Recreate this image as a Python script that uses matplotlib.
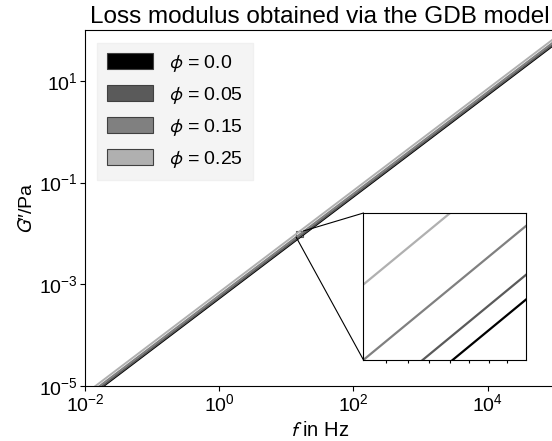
import matplotlib
matplotlib.use('Agg')
import matplotlib.pyplot as plt
from matplotlib.patches import Patch, Rectangle, ConnectionPatch
from matplotlib.ticker import NullLocator, FixedLocator, NullFormatter

plt.rcParams['font.family'] = ['Liberation Sans', 'DejaVu Sans']
plt.rcParams['mathtext.fontset'] = 'stixsans'

# G'' is a straight line in log-log, so the end points are enough
freq = [1e-2, 1e5]
g_phi000 = [5.25e-6, 52.5]
g_phi005 = [5.50e-6, 55.0]
g_phi015 = [6.03e-6, 60.3]
g_phi025 = [6.95e-6, 69.5]
phi_labels = ['0.0', '0.05', '0.15', '0.25']
curves = [g_phi000, g_phi005, g_phi015, g_phi025]
colors = ['black', '#5a5a5a', '#808080', '#b0b0b0']

# zoomed window
zoom_f = [14, 18]
zoom_g = [8.44e-3, 1.113e-2]
zoom_fticks = [14.5, 15, 15.5, 16, 16.5, 17, 17.5]

fig = plt.figure(figsize=(5.52, 4.41), dpi=100)
ax = fig.add_axes([0.154, 0.125, 0.851, 0.807])

for g, c in zip(curves, colors):
    ax.loglog(freq, g, color=c, lw=1.4)

ax.set_xlim(1e-2, 1e5)
ax.set_ylim(1e-5, 1e2)
ax.xaxis.set_major_locator(FixedLocator([1e-2, 1e0, 1e2, 1e4]))
ax.yaxis.set_major_locator(FixedLocator([1e-5, 1e-3, 1e-1, 1e1]))
ax.xaxis.set_minor_locator(NullLocator())
ax.yaxis.set_minor_locator(NullLocator())
ax.tick_params(labelsize=14, length=3.5, pad=2)
ax.set_xlabel('$f$ in Hz', fontsize=14.5, labelpad=4)
ax.set_ylabel('$G$\u2033/Pa', fontsize=14, labelpad=2)
ax.set_title('Loss modulus obtained via the GDB model', fontsize=17.5, pad=5)

handles = [Patch(facecolor=c, edgecolor='0.25', lw=0.8) for c in colors]
labels = [r'$\phi$ = ' + p for p in phi_labels]
leg = ax.legend(handles, labels, loc='upper left', fontsize=14,
                handlelength=2.4, handleheight=0.9, handletextpad=0.8,
                labelspacing=0.55, borderpad=0.5, fancybox=False,
                bbox_to_anchor=(0.005, 0.99))
leg.get_frame().set_facecolor('#f4f4f4')
leg.get_frame().set_edgecolor('#f0f0f0')
leg.get_frame().set_alpha(1.0)

# inset
axins = fig.add_axes([0.6585, 0.1837, 0.2935, 0.3333])
for g, c in zip(curves, colors):
    axins.loglog(freq, g, color=c, lw=1.6)
axins.set_xlim(*zoom_f)
axins.set_ylim(*zoom_g)
axins.xaxis.set_major_locator(FixedLocator(zoom_fticks))
axins.xaxis.set_minor_locator(NullLocator())
axins.xaxis.set_major_formatter(NullFormatter())
axins.yaxis.set_major_locator(NullLocator())
axins.yaxis.set_minor_locator(NullLocator())
axins.tick_params(axis='x', length=2.5)

ax.add_patch(Rectangle((zoom_f[0], zoom_g[0]), zoom_f[1] - zoom_f[0],
                       zoom_g[1] - zoom_g[0], fill=False,
                       edgecolor='0.35', lw=0.8))
con1 = ConnectionPatch(xyA=(zoom_f[1], zoom_g[1]), coordsA=ax.transData,
                       xyB=(zoom_f[0], zoom_g[1]), coordsB=axins.transData,
                       color='black', lw=0.8)
con2 = ConnectionPatch(xyA=(zoom_f[0], zoom_g[0]), coordsA=ax.transData,
                       xyB=(zoom_f[0], zoom_g[0]), coordsB=axins.transData,
                       color='black', lw=0.8)
fig.add_artist(con1)
fig.add_artist(con2)

fig.savefig('out.png', dpi=100)
